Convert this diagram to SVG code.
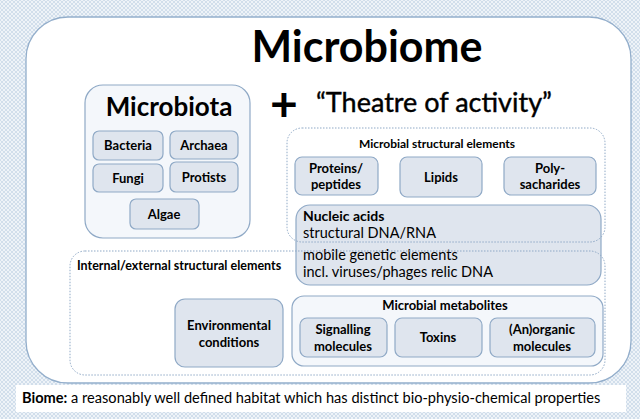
<svg xmlns="http://www.w3.org/2000/svg" width="640" height="419" viewBox="0 0 640 419">
<defs>
<pattern id="hatch" width="4" height="4" patternUnits="userSpaceOnUse">
<rect width="4" height="4" fill="#eef3f8"/>
<path d="M0,0 L4,4 M4,0 L0,4" stroke="#c4d5e5" stroke-width="0.7"/>
</pattern>
</defs>
<style>
text{font-family:Lato,"Open Sans","Liberation Sans",sans-serif;fill:#000}
.b{font-weight:bold}
.box{fill:#dfe5ee;stroke:#8fa9c6;stroke-width:1.2}
.light{fill:#f4f7fb;stroke:#8fa9c6;stroke-width:1.2}
.dot{fill:none;stroke:#8fa9c6;stroke-width:1;stroke-dasharray:1.5 1.5}
.lbl{font-size:13px;font-weight:bold;text-anchor:middle}
</style>
<rect width="640" height="419" fill="url(#hatch)"/>
<g id="microbiome">
<rect x="26" y="17" width="605" height="366" rx="42" fill="#fff" stroke="#93aecb" stroke-width="1.3"/>
<text x="367" y="62" class="b" font-size="43" text-anchor="middle">Microbiome</text>
</g>
<g id="microbiota">
<rect x="85" y="85" width="165" height="153" rx="18" class="light"/>
<text x="169" y="116" class="b" font-size="26" text-anchor="middle">Microbiota</text>
</g>
<g id="bacteria"><rect x="93" y="131" width="70" height="29" rx="6" class="box"/><text x="128" y="150" class="lbl">Bacteria</text></g>
<g id="archaea"><rect x="170" y="131" width="68" height="28" rx="6" class="box"/><text x="204" y="150" class="lbl">Archaea</text></g>
<g id="fungi"><rect x="93" y="164" width="70" height="28" rx="6" class="box"/><text x="128" y="183" class="lbl">Fungi</text></g>
<g id="protists"><rect x="170" y="162" width="68" height="30" rx="6" class="box"/><text x="204" y="182" class="lbl">Protists</text></g>
<g id="algae"><rect x="130" y="199" width="69" height="30" rx="6" class="box"/><text x="164" y="219" class="lbl">Algae</text></g>
<g id="plus"><text x="284" y="121" class="b" font-size="48" text-anchor="middle">+</text></g>
<g id="theatre"><text x="434" y="112" font-size="27" text-anchor="middle" stroke="#000" stroke-width="0.4">“Theatre of activity”</text></g>
<g id="nucleic">
<rect x="296" y="205" width="305" height="80" rx="14" class="box"/>
<text x="303" y="221" class="b" font-size="14">Nucleic acids</text>
<text x="303" y="238" font-size="14.5">structural DNA/RNA</text>
<text x="303" y="260" font-size="14.5">mobile genetic elements</text>
<text x="303" y="277" font-size="14.5">incl. viruses/phages relic DNA</text>
</g>
<g id="structural">
<rect x="287" y="128" width="318" height="114" rx="15" class="dot"/>
<text x="437" y="148" class="b" font-size="12" text-anchor="middle">Microbial structural elements</text>
</g>
<g id="proteins"><rect x="295" y="157" width="83" height="38" rx="7" class="box"/><text x="336" y="173" class="lbl">Proteins/</text><text x="336" y="189" class="lbl">peptides</text></g>
<g id="lipids"><rect x="400" y="157" width="82" height="40" rx="7" class="box"/><text x="441" y="182" class="lbl">Lipids</text></g>
<g id="polysacharides"><rect x="504" y="157" width="92" height="38" rx="7" class="box"/><text x="550" y="173" class="lbl">Poly-</text><text x="550" y="189" class="lbl">sacharides</text></g>
<g id="internal">
<rect x="70" y="251" width="535" height="124" rx="15" class="dot"/>
<text x="77" y="270" class="b" font-size="12.5">Internal/external structural elements</text>
</g>
<g id="environmental"><rect x="175" y="299" width="108" height="68" rx="10" class="box"/><text x="229" y="330" class="lbl">Environmental</text><text x="229" y="347" class="lbl">conditions</text></g>
<g id="metabolites">
<rect x="292" y="296" width="311" height="70" rx="12" class="light"/>
<text x="445" y="310" class="lbl">Microbial metabolites</text>
</g>
<g id="signalling"><rect x="300" y="318" width="87" height="39" rx="7" class="box"/><text x="343" y="334" class="lbl">Signalling</text><text x="343" y="351" class="lbl">molecules</text></g>
<g id="toxins"><rect x="395" y="318" width="87" height="39" rx="7" class="box"/><text x="438" y="342" class="lbl">Toxins</text></g>
<g id="anorganic"><rect x="490" y="318" width="105" height="39" rx="7" class="box"/><text x="542" y="334" class="lbl">(An)organic</text><text x="542" y="351" class="lbl">molecules</text></g>
<g id="caption">
<rect x="16" y="385" width="610" height="27" fill="#fff"/>
<text x="22" y="403" font-size="14.6"><tspan class="b">Biome:</tspan> a reasonably well defined habitat which has distinct bio-physio-chemical properties</text>
</g>
</svg>
